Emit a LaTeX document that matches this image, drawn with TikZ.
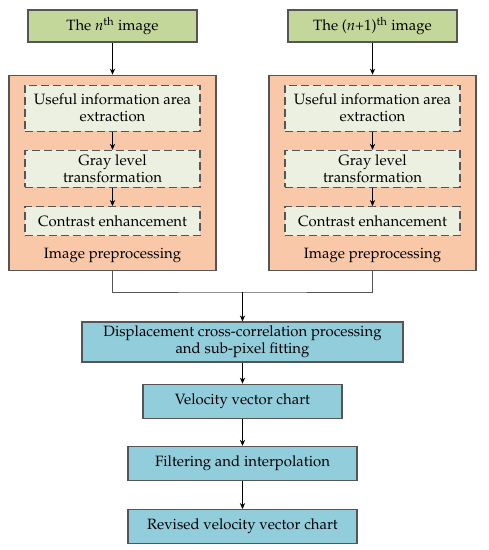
\documentclass[tikz,border=0pt]{standalone}
\usepackage[T1]{fontenc}
\usepackage{mathpazo}
\usepackage{tikz}
\usetikzlibrary{arrows.meta, positioning}
\definecolor{imggreen}{RGB}{196,215,155}
\definecolor{preporange}{RGB}{248,200,168}
\definecolor{subfill}{RGB}{235,240,224}
\definecolor{procblue}{RGB}{146,205,220}
\definecolor{edgegray}{RGB}{85,85,85}
\newcommand{\boxfont}{\fontsize{11.2}{12.75}\selectfont}
\tikzset{
  box/.style={
    rectangle, draw=edgegray, line width=0.9pt, align=center,
    inner sep=1pt, font=\boxfont
  },
  img/.style={box, fill=imggreen, minimum width=126.75pt, minimum height=24pt},
  prep/.style={box, fill=preporange, minimum width=155.25pt, minimum height=146.25pt},
  sub/.style={box, fill=subfill, dashed, dash pattern=on 6pt off 3pt,
    minimum width=131.25pt},
  proc/.style={box, fill=procblue, minimum height=25.5pt},
  arr/.style={-{Stealth[length=4.5pt, width=4pt]}, line width=0.6pt},
  line/.style={line width=0.6pt, draw=edgegray}
}
\begin{document}
\begin{tikzpicture}[x=0.75pt, y=-0.75pt, node distance=13.5pt]
  \useasboundingbox (0,0) rectangle (489,550);

  %% -- left column --
  \node[img] (imgA) at (112.5,26) {The \textit{n}\textsuperscript{th} image};
  \node[prep, below=24pt of imgA] (preA) {};
  \node[sub, minimum height=34.5pt, below=7.5pt of preA.north] (useA)
       {Useful information area\\extraction};
  \node[sub, minimum height=27.75pt, below=of useA] (grayA)
       {Gray level\\transformation};
  \node[sub, minimum height=21.75pt, below=of grayA] (contA)
       {Contrast enhancement};
  \node[font=\boxfont, above=2.5pt of preA.south] (labA)
       {Image preprocessing};

  %% -- right column --
  \node[img] (imgB) at (372.5,26) {The (\textit{n}+1)\textsuperscript{th} image};
  \node[prep, below=24pt of imgB] (preB) {};
  \node[sub, minimum height=34.5pt, below=7.5pt of preB.north] (useB)
       {Useful information area\\extraction};
  \node[sub, minimum height=27.75pt, below=of useB] (grayB)
       {Gray level\\transformation};
  \node[sub, minimum height=21.75pt, below=of grayB] (contB)
       {Contrast enhancement};
  \node[font=\boxfont, above=2.5pt of preB.south] (labB)
       {Image preprocessing};

  \foreach \a/\b in {imgA/preA, useA/grayA, grayA/contA,
                     imgB/preB, useB/grayB, grayB/contB}
    \draw[arr] (\a) -- (\b);

  %% -- joint processing --
  \coordinate (join) at (242.5,292);
  \node[proc, minimum width=240.75pt, minimum height=30pt] (disp) at (242.5,342)
       {Displacement cross-correlation processing\\and sub-pixel fitting};
  \node[proc, minimum width=149.25pt, below=15.75pt of disp] (vel)
       {Velocity vector chart};
  \node[proc, minimum width=171.75pt, below=20.25pt of vel] (filt)
       {Filtering and interpolation};
  \node[proc, minimum width=171.75pt, below=21pt of filt] (rev)
       {Revised velocity vector chart};

  \draw[line] (preA.south) |- (join) -| (preB.south);
  \foreach \a/\b in {join/disp, disp/vel, vel/filt, filt/rev}
    \draw[arr] (\a) -- (\b);

\end{tikzpicture}
\end{document}
